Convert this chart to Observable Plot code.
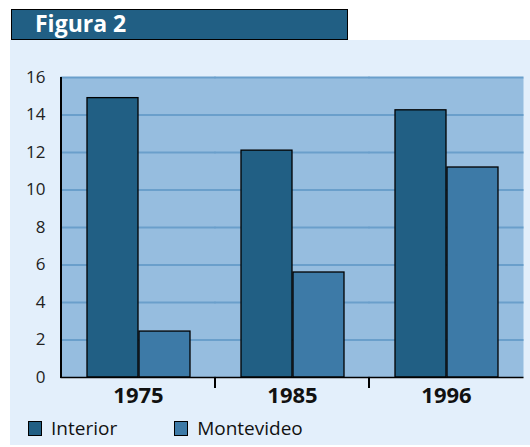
<!DOCTYPE html>
<html>
<head>
<meta charset="utf-8">
<script src="https://cdn.jsdelivr.net/npm/d3@7"></script>
<script src="https://cdn.jsdelivr.net/npm/@observablehq/plot@0.6"></script>
<style>
  html, body { margin: 0; padding: 0; background: #ffffff; }
  body { width: 530px; height: 447px; position: relative; overflow: hidden; font-family: "Open Sans", "DejaVu Sans", sans-serif; }
  #title { position: absolute; left: 11px; top: 9px; width: 335px; height: 29px; background: #215f84; border: 1px solid #000; color: #fff; font-weight: bold; font-size: 23px; line-height: 29px; box-sizing: content-box; }
  #title span { position: absolute; left: 23px; top: -1px; }
  #panel { position: absolute; left: 10px; top: 40px; width: 520px; height: 405px; background: #e3effb; }
  #chart svg { display: block; }
  #legend { position: absolute; left: 18px; top: 375px; display: flex; align-items: center; font-size: 19px; color: #111; }
  .item { display: flex; align-items: center; }
  .sw { width: 12px; height: 13px; border: 1px solid #000; margin-right: 9px; }
</style>
</head>
<body>
<div id="title"><span>Figura 2</span></div>
<div id="panel"><div id="chart"></div><div id="legend"></div></div>
<script>
const years = ["1975", "1985", "1996"];
const series = ["Interior", "Montevideo"];
const interior = [14.9, 12.1, 14.25];
const montevideo = [2.45, 5.6, 11.2];
const yTicks = [0, 2, 4, 6, 8, 10, 12, 14, 16];
const colors = ["#215f84", "#3d7aa7"];

const data = [];
years.forEach((y, i) => {
  data.push({year: y, series: series[0], value: interior[i]});
  data.push({year: y, series: series[1], value: montevideo[i]});
});

const chart = Plot.plot({
  width: 520,
  height: 375,
  marginLeft: 50,
  marginRight: 6,
  marginTop: 37,
  marginBottom: 38,
  style: {background: "transparent", fontFamily: "'Open Sans', sans-serif", color: "#222", overflow: "visible"},
  fx: {domain: years, padding: 0, label: null},
  x: {domain: series, paddingInner: 0.02, paddingOuter: 0.48, axis: null},
  y: {domain: [0, 16], label: null},
  color: {domain: series, range: colors},
  marks: [
    Plot.frame({fill: "#96bddf", stroke: null, facet: "super"}),
    Plot.ruleY(yTicks.filter(d => d > 0), {stroke: "#6a9fcb", strokeWidth: 2, insetLeft: -0.5, insetRight: -0.5}),
    Plot.barY(data, {fx: "year", x: "series", y: "value", fill: "series", stroke: "#000", strokeWidth: 1.3}),
    Plot.ruleY([0], {stroke: "#000", strokeWidth: 1.5, insetLeft: -0.5, insetRight: -0.5}),
    Plot.axisY({ticks: yTicks, tickSize: 0, tickPadding: 16, fontSize: 17, label: null}),
    Plot.axisFx({anchor: "bottom", tickSize: 0, tickPadding: 10, fontSize: 22, fontWeight: "bold", label: null, fill: "#111"})
  ]
});
document.getElementById("chart").appendChild(chart);

// left axis line and separator ticks between year groups, positioned with Plot's scales
const fx = chart.scale("fx");
const ys = chart.scale("y");
const svg = d3.select(chart);
const y0 = ys.apply(0), y16 = ys.apply(16);
const left = fx.apply(years[0]);
svg.append("line").attr("x1", left).attr("x2", left).attr("y1", y16).attr("y2", y0 + 1)
  .attr("stroke", "#000").attr("stroke-width", 2);
years.slice(1).forEach(y => {
  const x = fx.apply(y);
  svg.append("line").attr("x1", x).attr("x2", x).attr("y1", y0).attr("y2", y0 + 11)
    .attr("stroke", "#000").attr("stroke-width", 2);
});

const legend = document.getElementById("legend");
series.forEach((s, i) => {
  const item = document.createElement("div");
  item.className = "item";
  item.style.marginRight = i === 0 ? "57px" : "0";
  const sw = document.createElement("div");
  sw.className = "sw";
  sw.style.background = colors[i];
  const t = document.createElement("span");
  t.textContent = s;
  item.appendChild(sw);
  item.appendChild(t);
  legend.appendChild(item);
});
</script>
</body>
</html>
